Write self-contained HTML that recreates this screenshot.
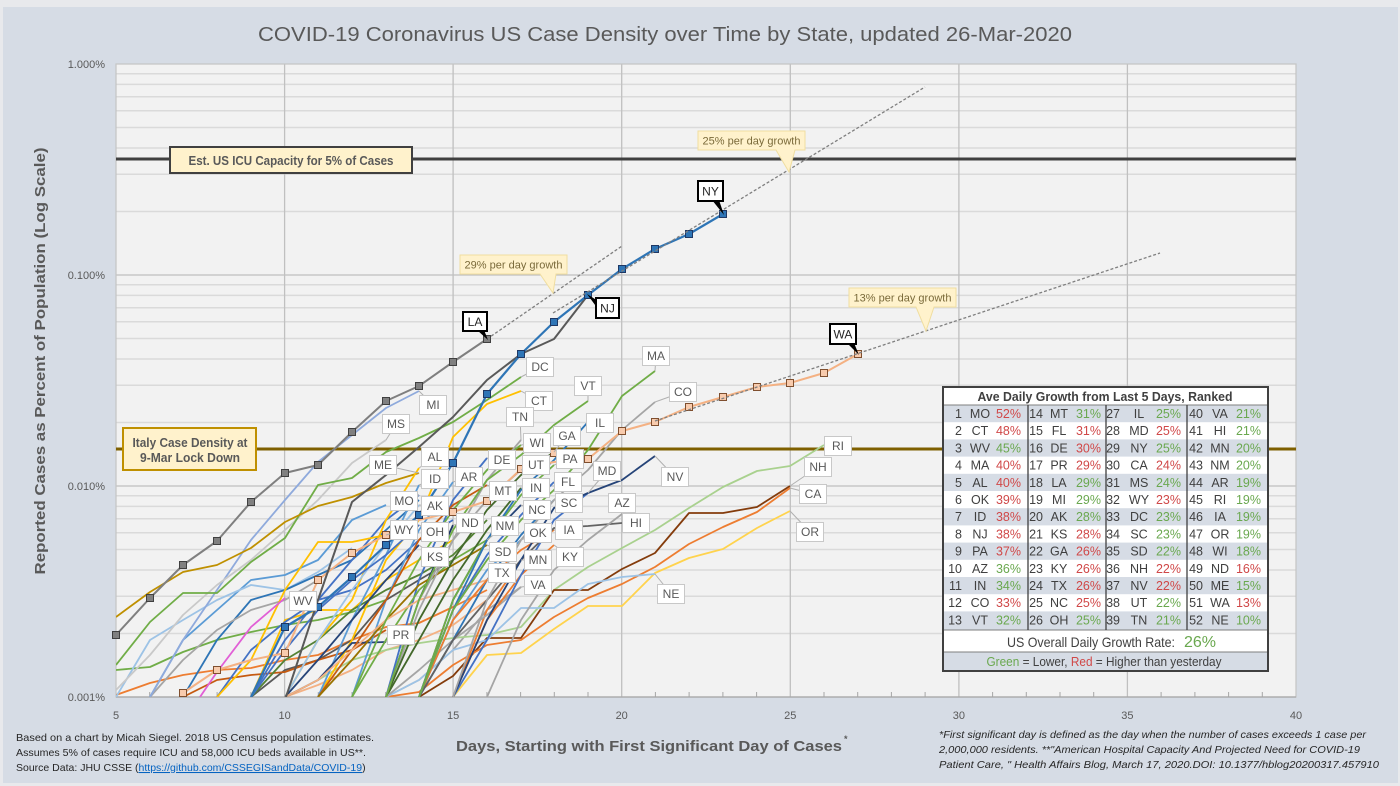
<!DOCTYPE html>
<html><head><meta charset="utf-8"><style>html,body{margin:0;padding:0;background:#e8e9ec;}svg{display:block;}</style></head>
<body>
<svg width="1400" height="786" viewBox="0 0 1400 786" xmlns="http://www.w3.org/2000/svg" font-family="'Liberation Sans', sans-serif">
<defs><clipPath id="pc"><rect x="116" y="64" width="1180" height="633"/></clipPath></defs>
<rect width="1400" height="786" fill="#e8e9ec"/>
<rect x="3" y="7" width="1395" height="776" fill="#d6dce5"/>

<text x="665" y="41" text-anchor="middle" font-size="20" fill="#595959" textLength="814" lengthAdjust="spacingAndGlyphs">COVID-19 Coronavirus US Case Density over Time by State, updated 26-Mar-2020</text>

<!-- plot area -->
<rect x="116" y="64" width="1180" height="633" fill="#f2f2f2"/>
<path d="M116 211.5H1296M116 174.3H1296M116 148H1296M116 127.5H1296M116 110.8H1296M116 96.7H1296M116 84.4H1296M116 73.7H1296M116 422.5H1296M116 385.3H1296M116 359H1296M116 338.5H1296M116 321.8H1296M116 307.7H1296M116 295.4H1296M116 284.7H1296M116 633.5H1296M116 596.3H1296M116 570H1296M116 549.5H1296M116 532.8H1296M116 518.7H1296M116 506.4H1296M116 495.7H1296" stroke="#dadada" stroke-width="1.5" fill="none"/>
<path d="M116 275H1296M116 486H1296M284.6 64V697M453.1 64V697M621.7 64V697M790.3 64V697M958.9 64V697M1127.4 64V697" stroke="#c0c0c0" stroke-width="1.3" fill="none"/>
<rect x="116" y="64" width="1180" height="633" fill="none" stroke="#c4c4c4" stroke-width="1.2"/>
<path d="M116 697H1296" stroke="#a6a6a6" stroke-width="1.3"/>
<path d="M149.7 697v-5M183.4 697v-5M217.1 697v-5M250.9 697v-5M318.3 697v-5M352 697v-5M385.7 697v-5M419.4 697v-5M486.9 697v-5M520.6 697v-5M554.3 697v-5M588 697v-5M655.4 697v-5M689.1 697v-5M722.9 697v-5M756.6 697v-5M824 697v-5M857.7 697v-5M891.4 697v-5M925.1 697v-5M992.6 697v-5M1026.3 697v-5M1060 697v-5M1093.7 697v-5M1161.1 697v-5M1194.9 697v-5M1228.6 697v-5M1262.3 697v-5" stroke="#a6a6a6" stroke-width="1"/>

<!-- reference lines -->
<path d="M116 159H1296" stroke="#404040" stroke-width="3"/>
<path d="M116 449H1296" stroke="#7f6000" stroke-width="3"/>

<!-- series -->
<g clip-path="url(#pc)" fill="none" stroke-width="1.8" stroke-linejoin="round">
<polyline stroke="#ed7d31" points="116,695 150,683 183,675 217,670 251,668 285,660 318,655 352,640 386,627 419,623 453,607 487,590"/>
<polyline stroke="#70ad47" points="116,670 150,667 183,652 217,640 251,632 285,625 318,620 352,612 386,600"/>
<polyline stroke="#5b9bd5" points="150,697 183,640 217,610 251,580 285,575 318,560 352,520 386,505"/>
<polyline stroke="#9dc3e6" points="116,697 150,640 183,620 217,600 251,585 285,590 318,572 352,548"/>
<polyline stroke="#2e75b6" points="183,697 217,640 251,600 285,590 318,575 352,560 386,530 419,500"/>
<polyline stroke="#a5a5a5" points="150,697 183,660 217,630 251,610 285,600 318,580"/>
<polyline stroke="#595959" points="251,697 285,670 318,660 352,640 386,600 419,580 453,560"/>
<polyline stroke="#ffc000" points="251,697 285,620 318,610 352,610 386,580 419,560 453,540"/>
<polyline stroke="#c55a11" points="183,697 217,680 251,675 285,672 318,660 352,650 386,630"/>
<polyline stroke="#4472c4" points="217,697 251,650 285,622 318,600 352,590 386,570 419,540 453,520"/>
<polyline stroke="#548235" points="251,697 285,660 318,640 352,610 386,590 419,575 453,555 487,520"/>
<polyline stroke="#f4b183" points="285,697 318,685 352,670 386,650 419,640 453,625 487,600"/>
<polyline stroke="#a5a5a5" points="386,697 419,680 453,650 487,610 521,587"/>

<polyline stroke="#a9d18e" points="285,697 318,680 352,660 386,650 420,643 453,638 487,635 521,627 554,590 588,567 622,548 655,530 689,508 723,487 757,471 790,466 824,445"/>
<polyline stroke="#843c0c" points="419,697 453,676 487,638 521,638 554,590 588,590 622,569 655,553 689,513 723,513 757,507 790,486"/>
<polyline stroke="#ed7d31" points="386,697 419,692 453,665 487,645 521,640 554,617 588,598 622,584 655,567 689,544 723,527 757,512 790,488"/>
<polyline stroke="#ffd34d" points="453,697 487,655 521,653 554,629 588,606 622,606 655,573 689,558 723,549 757,528 790,511"/>
<polyline stroke="#9dc3e6" points="386,697 419,680 453,650 487,640 521,608 554,608 588,584 622,577 655,574"/>

<polyline stroke="#8faadc" points="150,697 183,640 217,590 251,540 285,500 318,462 352,435 386,408 419,391"/>
<polyline stroke="#c9c9c9" points="116,690 150,655 183,615 217,585 251,560 285,530 318,500 352,463 386,440"/>
<polyline stroke="#70ad47" points="116,665 150,622 183,593 217,593 251,562 285,538 318,485 352,478 386,452 419,438 453,422 487,400 521,377"/>
<polyline stroke="#bf9000" points="116,617 150,592 183,572 217,565 251,548 285,522 318,506 352,497 386,483 419,473"/>
<polyline stroke="#4472c4" points="251,697 285,640 318,600 352,560 386,520 419,495"/>
<polyline stroke="#ffc000" points="285,697 318,640 352,600 386,520 419,468"/>
<polyline stroke="#ffc000" points="318,697 352,640 386,560 419,520 453,437 487,404 521,391"/>
<polyline stroke="#5b9bd5" points="318,697 352,620 386,555 419,485"/>
<polyline stroke="#9dc3e6" points="285,697 318,640 352,590 386,545 419,505"/>
<polyline stroke="#4472c4" points="251,697 285,650 318,610 352,580 386,555 419,525"/>
<polyline stroke="#264478" points="285,697 318,660 352,620 386,580 419,545"/>
<polyline stroke="#ffc000" points="217,697 251,660 285,590 318,542 352,542 386,535"/>
<polyline stroke="#264478" points="285,697 318,680 352,643 386,642"/>
<polyline stroke="#e15fd6" points="200,697 217,672 251,627 285,598"/>
<polyline stroke="#4472c4" points="386,697 419,580 453,500 487,458"/>
<polyline stroke="#5b9bd5" points="352,697 386,600 419,530 453,482"/>
<polyline stroke="#c55a11" points="318,697 352,650 386,600 419,540 453,505 487,485"/>
<polyline stroke="#1f3864" points="386,697 419,600 453,525"/>
<polyline stroke="#70ad47" points="352,697 386,640 419,590 453,560 487,540"/>
<polyline stroke="#997300" points="318,697 352,660 386,620 419,585 453,565 487,545"/>
<polyline stroke="#f4b183" points="285,697 318,680 352,650 386,620 419,600 453,590 487,580"/>
<polyline stroke="#a5a5a5" points="386,697 419,600 453,540 487,500 521,470"/>
<polyline stroke="#70ad47" points="352,697 386,620 419,560 453,510 487,470 521,445"/>
<polyline stroke="#a5a5a5" points="386,697 419,610 453,540 487,480 521,440"/>
<polyline stroke="#43682b" points="386,697 419,640 453,580 487,530 521,488"/>
<polyline stroke="#264478" points="419,697 453,600 487,540 521,505"/>
<polyline stroke="#5b9bd5" points="419,697 453,620 487,570 521,540"/>
<polyline stroke="#ed7d31" points="453,697 487,610 521,560"/>
<polyline stroke="#a5a5a5" points="386,697 419,670 453,640 487,615 521,587"/>
<polyline stroke="#43682b" points="386,697 419,620 453,560 487,510 521,475 554,452"/>
<polyline stroke="#70ad47" points="419,697 453,600 487,540 521,495 554,465"/>
<polyline stroke="#4472c4" points="419,697 453,610 487,555 521,515 554,482"/>
<polyline stroke="#2e75b6" points="419,697 453,640 487,580 521,535 554,500"/>
<polyline stroke="#ed7d31" points="419,697 453,620 487,580 521,550 554,530"/>
<polyline stroke="#636363" points="419,697 453,640 487,600 521,560 554,528 588,526 622,523"/>
<polyline stroke="#ed7d31" points="453,697 487,620 521,575 554,545"/>
<polyline stroke="#a5a5a5" points="487,697 521,620 554,570 588,540 622,514"/>
<polyline stroke="#4472c4" points="453,697 487,640 521,575 554,520 588,493"/>
<polyline stroke="#264478" points="453,697 487,620 521,560 554,508 588,493 622,480 655,456"/>
<polyline stroke="#2e75b6" points="419,697 453,610 487,540 521,490 554,460 588,422"/>
<polyline stroke="#70ad47" points="386,697 419,600 453,530 487,480 521,455 554,425 588,401"/>
<polyline stroke="#a5a5a5" points="453,697 487,600 521,540 554,500 588,470 622,430 655,402"/>
<polyline stroke="#70ad47" points="419,697 453,610 487,560 521,520 554,490 588,450 622,396 655,371"/>

<polyline stroke="#f4b183" stroke-width="2" points="183,693 217,670 251,660 285,653 318,580 352,553 386,535 419,520 453,512 487,501 521,469 554,462 588,459 622,431 655,422 689,407 723,397 757,387 790,383 824,373 858,354"/>
<polyline stroke="#595959" stroke-width="2" points="285,700 318,600 352,502 386,475 419,447 453,417 487,380 521,354 554,339 588,295"/>
<polyline stroke="#7f7f7f" stroke-width="2" points="116,635 150,598 183,565 217,541 251,502 285,473 318,465 352,432 386,401 419,386 453,362 487,339"/>
<polyline stroke="#2e75b6" stroke-width="2.2" points="251,697 285,627 318,607 352,577 386,545 419,515 453,463 487,394 521,354 554,322 588,295 622,269 655,249 689,234 723,214"/>
</g>

<!-- markers -->
<g fill="#808080" stroke="#404040" stroke-width="1">
<rect x="112.5" y="631.5" width="7" height="7"/><rect x="146.5" y="594.5" width="7" height="7"/><rect x="179.5" y="561.5" width="7" height="7"/><rect x="213.5" y="537.5" width="7" height="7"/><rect x="247.5" y="498.5" width="7" height="7"/><rect x="281.5" y="469.5" width="7" height="7"/><rect x="314.5" y="461.5" width="7" height="7"/><rect x="348.5" y="428.5" width="7" height="7"/><rect x="382.5" y="397.5" width="7" height="7"/><rect x="415.5" y="382.5" width="7" height="7"/><rect x="449.5" y="358.5" width="7" height="7"/><rect x="483.5" y="335.5" width="7" height="7"/>
</g>
<g fill="#2e75b6" stroke="#1f3864" stroke-width="1">
<rect x="281.5" y="623.5" width="7" height="7"/><rect x="314.5" y="603.5" width="7" height="7"/><rect x="348.5" y="573.5" width="7" height="7"/><rect x="382.5" y="541.5" width="7" height="7"/><rect x="415.5" y="511.5" width="7" height="7"/><rect x="449.5" y="459.5" width="7" height="7"/><rect x="483.5" y="390.5" width="7" height="7"/><rect x="517.5" y="350.5" width="7" height="7"/><rect x="550.5" y="318.5" width="7" height="7"/><rect x="584.5" y="291.5" width="7" height="7"/><rect x="618.5" y="265.5" width="7" height="7"/><rect x="651.5" y="245.5" width="7" height="7"/><rect x="685.5" y="230.5" width="7" height="7"/><rect x="719.5" y="210.5" width="7" height="7"/>
</g>
<g fill="#f8cbad" stroke="#7f4f2f" stroke-width="1">
<rect x="179.5" y="689.5" width="7" height="7"/><rect x="213.5" y="666.5" width="7" height="7"/><rect x="281.5" y="649.5" width="7" height="7"/><rect x="314.5" y="576.5" width="7" height="7"/><rect x="348.5" y="549.5" width="7" height="7"/><rect x="382.5" y="531.5" width="7" height="7"/><rect x="449.5" y="508.5" width="7" height="7"/><rect x="483.5" y="497.5" width="7" height="7"/><rect x="517.5" y="465.5" width="7" height="7"/><rect x="550.5" y="449.5" width="7" height="7"/><rect x="584.5" y="455.5" width="7" height="7"/><rect x="618.5" y="427.5" width="7" height="7"/><rect x="651.5" y="418.5" width="7" height="7"/><rect x="685.5" y="403.5" width="7" height="7"/><rect x="719.5" y="393.5" width="7" height="7"/><rect x="753.5" y="383.5" width="7" height="7"/><rect x="786.5" y="379.5" width="7" height="7"/><rect x="820.5" y="369.5" width="7" height="7"/><rect x="854.5" y="350.5" width="7" height="7"/>
</g>

<!-- trend lines -->
<g stroke="#7f7f7f" stroke-width="1.3" stroke-dasharray="3,2" fill="none">
<path d="M487 339L622 246"/>
<path d="M553 313L925 87"/>
<path d="M655 421L1160 253"/>
</g>

<!-- growth callouts -->
<g fill="#fff2cc" stroke="#f0dea0" stroke-width="1">
<path d="M460 255H567V274H556L553 293L540 274H460Z"/>
<path d="M698 131H805V150H795L789 172L776 150H698Z"/>
<path d="M849 288H956V307H934L926 331L916 307H849Z"/>
</g>
<g font-size="11" fill="#7a6a3a" text-anchor="middle">
<text x="513.5" y="268.5" textLength="98" lengthAdjust="spacingAndGlyphs">29% per day growth</text>
<text x="751.5" y="144.5" textLength="98" lengthAdjust="spacingAndGlyphs">25% per day growth</text>
<text x="902.5" y="301.5" textLength="98" lengthAdjust="spacingAndGlyphs">13% per day growth</text>
</g>

<!-- ICU and Italy boxes -->
<rect x="170" y="147" width="242" height="26" fill="#fff2cc" stroke="#404040" stroke-width="2"/>
<text x="291" y="165" text-anchor="middle" font-size="12.5" font-weight="bold" fill="#595959" textLength="205" lengthAdjust="spacingAndGlyphs">Est. US ICU Capacity for 5% of Cases</text>
<rect x="123" y="428" width="133" height="42" fill="#fff2cc" stroke="#bf9000" stroke-width="2"/>
<text x="190" y="447" text-anchor="middle" font-size="12.5" font-weight="bold" fill="#595959" textLength="115" lengthAdjust="spacingAndGlyphs">Italy Case Density at</text>
<text x="190" y="462" text-anchor="middle" font-size="12.5" font-weight="bold" fill="#595959" textLength="100" lengthAdjust="spacingAndGlyphs">9-Mar Lock Down</text>

<!-- callout lines -->
<g stroke="#b0b0b0" stroke-width="1" fill="none">
<path d="M656 356L655 371M540 367L521 377M588 386L588 401M683 392L655 402M539 401L521 391M520 417L521 440M433 405L419 391M396 424L386 440M600 423L588 422M537 443L521 445M567 436L554 452M435 457L419 468M502 460L487 458M536 465L521 470M570 459L554 465M383 465L419 473M435 479L419 485M469 477L453 482M607 471L588 493M568 482L554 482M675 477L655 456M503 491L487 485M536 488L521 488M404 501L419 495M435 506L419 505M569 503L554 500M537 510L521 505M622 503L622 514M838 446L824 445M818 467L790 486M813 494L790 488M404 530L386 535M435 532L419 525M470 523L453 525M505 526L487 540M538 533L521 540M569 530L554 530M636 523L622 523M810 532L790 511M435 557L419 545M503 552L487 545M538 560L521 560M570 557L554 545M502 573L487 580M538 585L521 587M671 594L655 574M303 601L285 598M401 635L386 642"/>
</g>

<!-- state labels -->
<g fill="#ffffff" stroke="#c8c8c8" stroke-width="1">
<rect x="642.5" y="346.5" width="27" height="19"/><rect x="526.5" y="357.5" width="27" height="19"/><rect x="574.5" y="376.5" width="27" height="19"/><rect x="669.5" y="382.5" width="27" height="19"/><rect x="525.5" y="391.5" width="27" height="19"/><rect x="506.5" y="407.5" width="27" height="19"/><rect x="419.5" y="395.5" width="27" height="19"/><rect x="382.5" y="414.5" width="27" height="19"/><rect x="586.5" y="413.5" width="27" height="19"/><rect x="523.5" y="433.5" width="27" height="19"/><rect x="553.5" y="426.5" width="27" height="19"/><rect x="421.5" y="447.5" width="27" height="19"/><rect x="488.5" y="450.5" width="27" height="19"/><rect x="522.5" y="455.5" width="27" height="19"/><rect x="556.5" y="449.5" width="27" height="19"/><rect x="369.5" y="455.5" width="27" height="19"/><rect x="421.5" y="469.5" width="27" height="19"/><rect x="455.5" y="467.5" width="27" height="19"/><rect x="593.5" y="461.5" width="27" height="19"/><rect x="554.5" y="472.5" width="27" height="19"/><rect x="661.5" y="467.5" width="27" height="19"/><rect x="489.5" y="481.5" width="27" height="19"/><rect x="522.5" y="478.5" width="27" height="19"/><rect x="390.5" y="491.5" width="27" height="19"/><rect x="421.5" y="496.5" width="27" height="19"/><rect x="555.5" y="493.5" width="27" height="19"/><rect x="523.5" y="500.5" width="27" height="19"/><rect x="608.5" y="493.5" width="27" height="19"/><rect x="824.5" y="436.5" width="27" height="19"/><rect x="804.5" y="457.5" width="27" height="19"/><rect x="799.5" y="484.5" width="27" height="19"/><rect x="390.5" y="520.5" width="27" height="19"/><rect x="421.5" y="522.5" width="27" height="19"/><rect x="456.5" y="513.5" width="27" height="19"/><rect x="491.5" y="516.5" width="27" height="19"/><rect x="524.5" y="523.5" width="27" height="19"/><rect x="555.5" y="520.5" width="27" height="19"/><rect x="622.5" y="513.5" width="27" height="19"/><rect x="796.5" y="522.5" width="27" height="19"/><rect x="421.5" y="547.5" width="27" height="19"/><rect x="489.5" y="542.5" width="27" height="19"/><rect x="524.5" y="550.5" width="27" height="19"/><rect x="556.5" y="547.5" width="27" height="19"/><rect x="488.5" y="563.5" width="27" height="19"/><rect x="524.5" y="575.5" width="27" height="19"/><rect x="657.5" y="584.5" width="27" height="19"/><rect x="289.5" y="591.5" width="27" height="19"/><rect x="387.5" y="625.5" width="27" height="19"/>
</g>
<g font-size="12" fill="#595959" text-anchor="middle">
<text x="656" y="360">MA</text><text x="540" y="371">DC</text><text x="588" y="390">VT</text><text x="683" y="396">CO</text><text x="539" y="405">CT</text><text x="520" y="421">TN</text><text x="433" y="409">MI</text><text x="396" y="428">MS</text><text x="600" y="427">IL</text><text x="537" y="447">WI</text><text x="567" y="440">GA</text><text x="435" y="461">AL</text><text x="502" y="464">DE</text><text x="536" y="469">UT</text><text x="570" y="463">PA</text><text x="383" y="469">ME</text><text x="435" y="483">ID</text><text x="469" y="481">AR</text><text x="607" y="475">MD</text><text x="568" y="486">FL</text><text x="675" y="481">NV</text><text x="503" y="495">MT</text><text x="536" y="492">IN</text><text x="404" y="505">MO</text><text x="435" y="510">AK</text><text x="569" y="507">SC</text><text x="537" y="514">NC</text><text x="622" y="507">AZ</text><text x="838" y="450">RI</text><text x="818" y="471">NH</text><text x="813" y="498">CA</text><text x="404" y="534">WY</text><text x="435" y="536">OH</text><text x="470" y="527">ND</text><text x="505" y="530">NM</text><text x="538" y="537">OK</text><text x="569" y="534">IA</text><text x="636" y="527">HI</text><text x="810" y="536">OR</text><text x="435" y="561">KS</text><text x="503" y="556">SD</text><text x="538" y="564">MN</text><text x="570" y="561">KY</text><text x="502" y="577">TX</text><text x="538" y="589">VA</text><text x="671" y="598">NE</text><text x="303" y="605">WV</text><text x="401" y="639">PR</text>
</g>

<!-- highlighted labels -->
<g fill="#000">
<path d="M477 330L484 330L488 340Z"/>
<path d="M712 200L719 200L724 215Z"/>
<path d="M598 301L598 309L587 294Z"/>
<path d="M847 343L854 343L859 355Z"/>
</g>
<g fill="#ffffff" stroke="#000" stroke-width="2">
<rect x="463" y="312" width="24" height="19"/>
<rect x="698" y="181" width="25" height="20"/>
<rect x="596" y="298" width="23" height="20"/>
<rect x="830" y="324" width="26" height="20"/>
</g>
<g font-size="12" fill="#262626" text-anchor="middle">
<text x="475" y="326">LA</text><text x="710.5" y="195.5">NY</text><text x="607.5" y="312.5">NJ</text><text x="843" y="338.5">WA</text>
</g>

<!-- axes labels -->
<g font-size="11" fill="#595959" text-anchor="end">
<text x="105" y="68">1.000%</text><text x="105" y="279">0.100%</text><text x="105" y="490">0.010%</text><text x="105" y="701">0.001%</text>
</g>
<g font-size="11" fill="#595959" text-anchor="middle">
<text x="116" y="719">5</text><text x="284.6" y="719">10</text><text x="453.1" y="719">15</text><text x="621.7" y="719">20</text><text x="790.3" y="719">25</text><text x="958.9" y="719">30</text><text x="1127.4" y="719">35</text><text x="1296" y="719">40</text>
</g>
<text transform="translate(45,361) rotate(-90)" text-anchor="middle" font-size="15" font-weight="bold" fill="#595959" textLength="427" lengthAdjust="spacingAndGlyphs">Reported Cases as Percent of Population (Log Scale)</text>
<text x="456" y="751" font-size="15" font-weight="bold" fill="#595959" textLength="386" lengthAdjust="spacingAndGlyphs">Days, Starting with First Significant Day of Cases</text>
<text x="844" y="742" font-size="9" font-weight="bold" fill="#595959">*</text>

<!-- footnotes -->
<g font-size="10.5" fill="#262626">
<text x="16" y="741" textLength="358" lengthAdjust="spacingAndGlyphs">Based on a chart by Micah Siegel.  2018 US Census population estimates.</text>
<text x="16" y="756" textLength="350" lengthAdjust="spacingAndGlyphs">Assumes 5% of cases require ICU and 58,000 ICU beds available in US**.</text>
<text x="16" y="771">Source Data: JHU CSSE (<tspan fill="#0563c1" text-decoration="underline">https://github.com/CSSEGISandData/COVID-19</tspan>)</text>
</g>
<g font-size="10.5" fill="#262626" font-style="italic">
<text x="939" y="738" textLength="427" lengthAdjust="spacingAndGlyphs">*First significant day is defined as the day when the number of cases exceeds 1 case per</text>
<text x="939" y="753" textLength="421" lengthAdjust="spacingAndGlyphs">2,000,000 residents.  **"American Hospital Capacity And Projected Need for COVID-19</text>
<text x="939" y="768" textLength="440" lengthAdjust="spacingAndGlyphs">Patient Care, " Health Affairs Blog, March 17, 2020.DOI: 10.1377/hblog20200317.457910</text>
</g>

<!-- table -->
<rect x="943" y="387" width="325" height="284" fill="#ffffff"/>
<g fill="#d6dce5">
<rect x="943" y="405" width="325" height="17.2"/><rect x="943" y="439.4" width="325" height="17.2"/><rect x="943" y="473.8" width="325" height="17.2"/><rect x="943" y="508.2" width="325" height="17.2"/><rect x="943" y="542.6" width="325" height="17.2"/><rect x="943" y="577" width="325" height="17.2"/><rect x="943" y="611.4" width="325" height="18.6"/><rect x="943" y="652" width="325" height="19"/>
</g>
<path d="M943 405H1268M943 630H1268M943 652H1268" stroke="#7f7f7f" stroke-width="1"/>
<path d="M1028 405V630M1106 405V630M1187 405V630" stroke="#404040" stroke-width="1.3"/>
<rect x="943" y="387" width="325" height="284" fill="none" stroke="#404040" stroke-width="2"/>
<text x="1105" y="401" text-anchor="middle" font-size="13" font-weight="bold" fill="#404040" textLength="255" lengthAdjust="spacingAndGlyphs">Ave Daily Growth from Last 5 Days, Ranked</text>

<g font-size="12.5" fill="#404040">
<text y="418"><tspan x="962" text-anchor="end">1</tspan><tspan x="980" text-anchor="middle">MO</tspan><tspan x="1021" text-anchor="end" fill="#d04848">52%</tspan><tspan x="1043" text-anchor="end">14</tspan><tspan x="1059" text-anchor="middle">MT</tspan><tspan x="1101" text-anchor="end" fill="#6aa84f">31%</tspan><tspan x="1120" text-anchor="end">27</tspan><tspan x="1139" text-anchor="middle">IL</tspan><tspan x="1181" text-anchor="end" fill="#6aa84f">25%</tspan><tspan x="1203" text-anchor="end">40</tspan><tspan x="1220" text-anchor="middle">VA</tspan><tspan x="1261" text-anchor="end" fill="#6aa84f">21%</tspan></text>
<text y="435.2"><tspan x="962" text-anchor="end">2</tspan><tspan x="980" text-anchor="middle">CT</tspan><tspan x="1021" text-anchor="end" fill="#d04848">48%</tspan><tspan x="1043" text-anchor="end">15</tspan><tspan x="1059" text-anchor="middle">FL</tspan><tspan x="1101" text-anchor="end" fill="#d04848">31%</tspan><tspan x="1120" text-anchor="end">28</tspan><tspan x="1139" text-anchor="middle">MD</tspan><tspan x="1181" text-anchor="end" fill="#d04848">25%</tspan><tspan x="1203" text-anchor="end">41</tspan><tspan x="1220" text-anchor="middle">HI</tspan><tspan x="1261" text-anchor="end" fill="#6aa84f">21%</tspan></text>
<text y="452.4"><tspan x="962" text-anchor="end">3</tspan><tspan x="980" text-anchor="middle">WV</tspan><tspan x="1021" text-anchor="end" fill="#6aa84f">45%</tspan><tspan x="1043" text-anchor="end">16</tspan><tspan x="1059" text-anchor="middle">DE</tspan><tspan x="1101" text-anchor="end" fill="#d04848">30%</tspan><tspan x="1120" text-anchor="end">29</tspan><tspan x="1139" text-anchor="middle">NY</tspan><tspan x="1181" text-anchor="end" fill="#6aa84f">25%</tspan><tspan x="1203" text-anchor="end">42</tspan><tspan x="1220" text-anchor="middle">MN</tspan><tspan x="1261" text-anchor="end" fill="#6aa84f">20%</tspan></text>
<text y="469.6"><tspan x="962" text-anchor="end">4</tspan><tspan x="980" text-anchor="middle">MA</tspan><tspan x="1021" text-anchor="end" fill="#d04848">40%</tspan><tspan x="1043" text-anchor="end">17</tspan><tspan x="1059" text-anchor="middle">PR</tspan><tspan x="1101" text-anchor="end" fill="#d04848">29%</tspan><tspan x="1120" text-anchor="end">30</tspan><tspan x="1139" text-anchor="middle">CA</tspan><tspan x="1181" text-anchor="end" fill="#d04848">24%</tspan><tspan x="1203" text-anchor="end">43</tspan><tspan x="1220" text-anchor="middle">NM</tspan><tspan x="1261" text-anchor="end" fill="#6aa84f">20%</tspan></text>
<text y="486.8"><tspan x="962" text-anchor="end">5</tspan><tspan x="980" text-anchor="middle">AL</tspan><tspan x="1021" text-anchor="end" fill="#d04848">40%</tspan><tspan x="1043" text-anchor="end">18</tspan><tspan x="1059" text-anchor="middle">LA</tspan><tspan x="1101" text-anchor="end" fill="#6aa84f">29%</tspan><tspan x="1120" text-anchor="end">31</tspan><tspan x="1139" text-anchor="middle">MS</tspan><tspan x="1181" text-anchor="end" fill="#6aa84f">24%</tspan><tspan x="1203" text-anchor="end">44</tspan><tspan x="1220" text-anchor="middle">AR</tspan><tspan x="1261" text-anchor="end" fill="#6aa84f">19%</tspan></text>
<text y="504"><tspan x="962" text-anchor="end">6</tspan><tspan x="980" text-anchor="middle">OK</tspan><tspan x="1021" text-anchor="end" fill="#d04848">39%</tspan><tspan x="1043" text-anchor="end">19</tspan><tspan x="1059" text-anchor="middle">MI</tspan><tspan x="1101" text-anchor="end" fill="#6aa84f">29%</tspan><tspan x="1120" text-anchor="end">32</tspan><tspan x="1139" text-anchor="middle">WY</tspan><tspan x="1181" text-anchor="end" fill="#d04848">23%</tspan><tspan x="1203" text-anchor="end">45</tspan><tspan x="1220" text-anchor="middle">RI</tspan><tspan x="1261" text-anchor="end" fill="#6aa84f">19%</tspan></text>
<text y="521.2"><tspan x="962" text-anchor="end">7</tspan><tspan x="980" text-anchor="middle">ID</tspan><tspan x="1021" text-anchor="end" fill="#d04848">38%</tspan><tspan x="1043" text-anchor="end">20</tspan><tspan x="1059" text-anchor="middle">AK</tspan><tspan x="1101" text-anchor="end" fill="#6aa84f">28%</tspan><tspan x="1120" text-anchor="end">33</tspan><tspan x="1139" text-anchor="middle">DC</tspan><tspan x="1181" text-anchor="end" fill="#6aa84f">23%</tspan><tspan x="1203" text-anchor="end">46</tspan><tspan x="1220" text-anchor="middle">IA</tspan><tspan x="1261" text-anchor="end" fill="#6aa84f">19%</tspan></text>
<text y="538.4"><tspan x="962" text-anchor="end">8</tspan><tspan x="980" text-anchor="middle">NJ</tspan><tspan x="1021" text-anchor="end" fill="#d04848">38%</tspan><tspan x="1043" text-anchor="end">21</tspan><tspan x="1059" text-anchor="middle">KS</tspan><tspan x="1101" text-anchor="end" fill="#d04848">28%</tspan><tspan x="1120" text-anchor="end">34</tspan><tspan x="1139" text-anchor="middle">SC</tspan><tspan x="1181" text-anchor="end" fill="#6aa84f">23%</tspan><tspan x="1203" text-anchor="end">47</tspan><tspan x="1220" text-anchor="middle">OR</tspan><tspan x="1261" text-anchor="end" fill="#6aa84f">19%</tspan></text>
<text y="555.6"><tspan x="962" text-anchor="end">9</tspan><tspan x="980" text-anchor="middle">PA</tspan><tspan x="1021" text-anchor="end" fill="#d04848">37%</tspan><tspan x="1043" text-anchor="end">22</tspan><tspan x="1059" text-anchor="middle">GA</tspan><tspan x="1101" text-anchor="end" fill="#d04848">26%</tspan><tspan x="1120" text-anchor="end">35</tspan><tspan x="1139" text-anchor="middle">SD</tspan><tspan x="1181" text-anchor="end" fill="#6aa84f">22%</tspan><tspan x="1203" text-anchor="end">48</tspan><tspan x="1220" text-anchor="middle">WI</tspan><tspan x="1261" text-anchor="end" fill="#6aa84f">18%</tspan></text>
<text y="572.8"><tspan x="962" text-anchor="end">10</tspan><tspan x="980" text-anchor="middle">AZ</tspan><tspan x="1021" text-anchor="end" fill="#6aa84f">36%</tspan><tspan x="1043" text-anchor="end">23</tspan><tspan x="1059" text-anchor="middle">KY</tspan><tspan x="1101" text-anchor="end" fill="#d04848">26%</tspan><tspan x="1120" text-anchor="end">36</tspan><tspan x="1139" text-anchor="middle">NH</tspan><tspan x="1181" text-anchor="end" fill="#d04848">22%</tspan><tspan x="1203" text-anchor="end">49</tspan><tspan x="1220" text-anchor="middle">ND</tspan><tspan x="1261" text-anchor="end" fill="#d04848">16%</tspan></text>
<text y="590"><tspan x="962" text-anchor="end">11</tspan><tspan x="980" text-anchor="middle">IN</tspan><tspan x="1021" text-anchor="end" fill="#6aa84f">34%</tspan><tspan x="1043" text-anchor="end">24</tspan><tspan x="1059" text-anchor="middle">TX</tspan><tspan x="1101" text-anchor="end" fill="#d04848">26%</tspan><tspan x="1120" text-anchor="end">37</tspan><tspan x="1139" text-anchor="middle">NV</tspan><tspan x="1181" text-anchor="end" fill="#d04848">22%</tspan><tspan x="1203" text-anchor="end">50</tspan><tspan x="1220" text-anchor="middle">ME</tspan><tspan x="1261" text-anchor="end" fill="#6aa84f">15%</tspan></text>
<text y="607.2"><tspan x="962" text-anchor="end">12</tspan><tspan x="980" text-anchor="middle">CO</tspan><tspan x="1021" text-anchor="end" fill="#d04848">33%</tspan><tspan x="1043" text-anchor="end">25</tspan><tspan x="1059" text-anchor="middle">NC</tspan><tspan x="1101" text-anchor="end" fill="#d04848">25%</tspan><tspan x="1120" text-anchor="end">38</tspan><tspan x="1139" text-anchor="middle">UT</tspan><tspan x="1181" text-anchor="end" fill="#6aa84f">22%</tspan><tspan x="1203" text-anchor="end">51</tspan><tspan x="1220" text-anchor="middle">WA</tspan><tspan x="1261" text-anchor="end" fill="#d04848">13%</tspan></text>
<text y="624.4"><tspan x="962" text-anchor="end">13</tspan><tspan x="980" text-anchor="middle">VT</tspan><tspan x="1021" text-anchor="end" fill="#6aa84f">32%</tspan><tspan x="1043" text-anchor="end">26</tspan><tspan x="1059" text-anchor="middle">OH</tspan><tspan x="1101" text-anchor="end" fill="#6aa84f">25%</tspan><tspan x="1120" text-anchor="end">39</tspan><tspan x="1139" text-anchor="middle">TN</tspan><tspan x="1181" text-anchor="end" fill="#6aa84f">21%</tspan><tspan x="1203" text-anchor="end">52</tspan><tspan x="1220" text-anchor="middle">NE</tspan><tspan x="1261" text-anchor="end" fill="#6aa84f">10%</tspan></text>
</g>
<text x="1007" y="647" font-size="14" fill="#404040" textLength="168" lengthAdjust="spacingAndGlyphs">US Overall Daily Growth Rate:</text>
<text x="1184" y="647" font-size="16" fill="#6aa84f">26%</text>
<text x="1104" y="666" text-anchor="middle" font-size="12.5" fill="#404040" textLength="235" lengthAdjust="spacingAndGlyphs"><tspan fill="#6aa84f">Green</tspan> = Lower, <tspan fill="#d04848">Red</tspan> = Higher than yesterday</text>
</svg>
</body></html>
